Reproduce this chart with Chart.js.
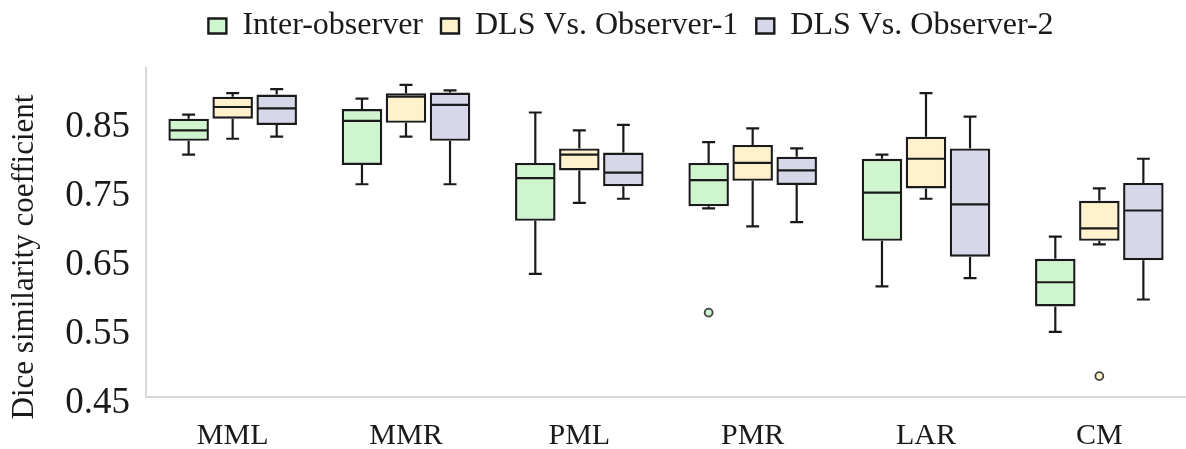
<!DOCTYPE html>
<html>
<head>
<meta charset="utf-8">
<script src="https://cdn.jsdelivr.net/npm/chart.js@4.4.0/dist/chart.umd.min.js"></script>
<style>
html, body { margin: 0; padding: 0; background: #fff; }
</style>
</head>
<body>
<canvas id="myChart" width="1186" height="449"></canvas>
<script>
const categories = ["MML", "MMR", "PML", "PMR", "LAR", "CM"];
const seriesNames = ["Inter-observer", "DLS Vs. Observer-1", "DLS Vs. Observer-2"];
const yTicks = [0.45, 0.55, 0.65, 0.75, 0.85];

// [min, q1, median, q3, max] per category
const interObserver = [
    [0.810, 0.830, 0.845, 0.862, 0.868],
    [0.767, 0.795, 0.859, 0.876, 0.891],
    [0.637, 0.714, 0.776, 0.798, 0.871],
    [0.732, 0.735, 0.773, 0.798, 0.828],
    [0.619, 0.685, 0.755, 0.804, 0.810],
    [0.553, 0.590, 0.625, 0.659, 0.691]
];
const observer1 = [
    [0.833, 0.862, 0.879, 0.894, 0.899],
    [0.836, 0.856, 0.894, 0.899, 0.911],
    [0.740, 0.787, 0.810, 0.819, 0.845],
    [0.706, 0.772, 0.798, 0.824, 0.848],
    [0.746, 0.761, 0.804, 0.836, 0.899],
    [0.680, 0.685, 0.703, 0.743, 0.761]
];
const observer2 = [
    [0.836, 0.853, 0.877, 0.897, 0.905],
    [0.767, 0.830, 0.882, 0.900, 0.903],
    [0.746, 0.764, 0.784, 0.813, 0.853],
    [0.712, 0.766, 0.787, 0.807, 0.819],
    [0.631, 0.662, 0.738, 0.819, 0.865],
    [0.600, 0.657, 0.729, 0.769, 0.804]
];
const interOutliers = [[], [], [], [0.581], [], []];
const observer1Outliers = [[], [], [], [], [], [0.489]];
const observer2Outliers = [[], [], [], [], [], []];

const fills = ["#cff5cf", "#fff1cc", "#d6d7e9"];
const ink = "#1a1a1a";
const serif = "'Liberation Serif', 'Times New Roman', serif";

const stats = [interObserver, observer1, observer2];
const outliers = [interOutliers, observer1Outliers, observer2Outliers];

const datasets = stats.map((s, i) => ({
    label: seriesNames[i],
    data: s.map(r => [r[1], r[3]]),
    backgroundColor: fills[i],
    borderColor: ink,
    borderWidth: 2.4,
    borderSkipped: false,
    categoryPercentage: 0.762,
    barPercentage: 0.92
}));

// whiskers, medians and outliers drawn around the floating bars
const boxPlot = {
    id: "boxPlot",
    beforeDatasetsDraw(chart) {
        const ctx = chart.ctx;
        const y = chart.scales.y;
        ctx.save();
        ctx.strokeStyle = ink;
        ctx.lineWidth = 2.2;
        stats.forEach((s, d) => {
            const meta = chart.getDatasetMeta(d);
            s.forEach((r, j) => {
                const bar = meta.data[j];
                const cap = bar.width * 0.32;
                ctx.beginPath();
                ctx.moveTo(bar.x, y.getPixelForValue(r[3]));
                ctx.lineTo(bar.x, y.getPixelForValue(r[4]));
                ctx.moveTo(bar.x - cap / 2, y.getPixelForValue(r[4]));
                ctx.lineTo(bar.x + cap / 2, y.getPixelForValue(r[4]));
                ctx.moveTo(bar.x, y.getPixelForValue(r[1]));
                ctx.lineTo(bar.x, y.getPixelForValue(r[0]));
                ctx.moveTo(bar.x - cap / 2, y.getPixelForValue(r[0]));
                ctx.lineTo(bar.x + cap / 2, y.getPixelForValue(r[0]));
                ctx.stroke();
            });
        });
        ctx.restore();
    },
    afterDatasetsDraw(chart) {
        const ctx = chart.ctx;
        const y = chart.scales.y;
        ctx.save();
        stats.forEach((s, d) => {
            const meta = chart.getDatasetMeta(d);
            s.forEach((r, j) => {
                const bar = meta.data[j];
                const py = y.getPixelForValue(r[2]);
                ctx.strokeStyle = ink;
                ctx.lineWidth = 2.2;
                ctx.beginPath();
                ctx.moveTo(bar.x - bar.width / 2 + 1, py);
                ctx.lineTo(bar.x + bar.width / 2 - 1, py);
                ctx.stroke();
                outliers[d][j].forEach(v => {
                    ctx.beginPath();
                    ctx.arc(bar.x, y.getPixelForValue(v), 4, 0, Math.PI * 2);
                    ctx.fillStyle = fills[d];
                    ctx.fill();
                    ctx.lineWidth = 1.8;
                    ctx.strokeStyle = "#444";
                    ctx.stroke();
                });
            });
        });
        ctx.restore();
    },
    afterLayout(chart) {
        // legend sits a little right of the canvas centre and close to the top
        chart.legend.left += 38;
        chart.legend.right += 38;
        chart.legend.top -= 8;
    },
    afterDraw(chart) {
        const ctx = chart.ctx;
        ctx.save();
        ctx.translate(25, 257);
        ctx.rotate(-Math.PI / 2);
        ctx.font = "31px " + serif;
        ctx.fillStyle = ink;
        ctx.textAlign = "center";
        ctx.textBaseline = "middle";
        ctx.fillText("Dice similarity coefficient", 0, 0);
        ctx.restore();
    }
};

const legendHeight = {
    id: "legendHeight",
    beforeInit(chart) {
        const fit = chart.legend.fit;
        chart.legend.fit = function () {
            fit.call(this);
            this.height = 68;
        };
    }
};

new Chart(document.getElementById("myChart"), {
    type: "bar",
    data: { labels: categories, datasets: datasets },
    options: {
        responsive: false,
        animation: false,
        layout: { padding: 0 },
        plugins: {
            tooltip: { enabled: false },
            legend: {
                position: "top",
                labels: {
                    color: ink,
                    font: { family: serif, size: 32 },
                    boxWidth: 18,
                    boxHeight: 15,
                    padding: 18
                }
            }
        },
        scales: {
            x: {
                grid: { display: false, drawTicks: false },
                border: { display: true, color: "#d9d9d9", width: 2 },
                ticks: { color: ink, font: { family: serif, size: 30 }, padding: 21, maxRotation: 0 },
                afterFit(scale) { scale.height = 52; }
            },
            y: {
                min: 0.4587,
                max: 0.9355,
                grid: { display: false, drawTicks: false },
                border: { display: true, color: "#d9d9d9", width: 2 },
                ticks: {
                    color: ink,
                    font: { family: serif, size: 37 },
                    padding: 16,
                    callback: v => v.toFixed(2)
                },
                afterBuildTicks(scale) { scale.ticks = yTicks.map(v => ({ value: v })); },
                afterFit(scale) { scale.width = 146; }
            }
        }
    },
    plugins: [boxPlot, legendHeight]
});
</script>
</body>
</html>
